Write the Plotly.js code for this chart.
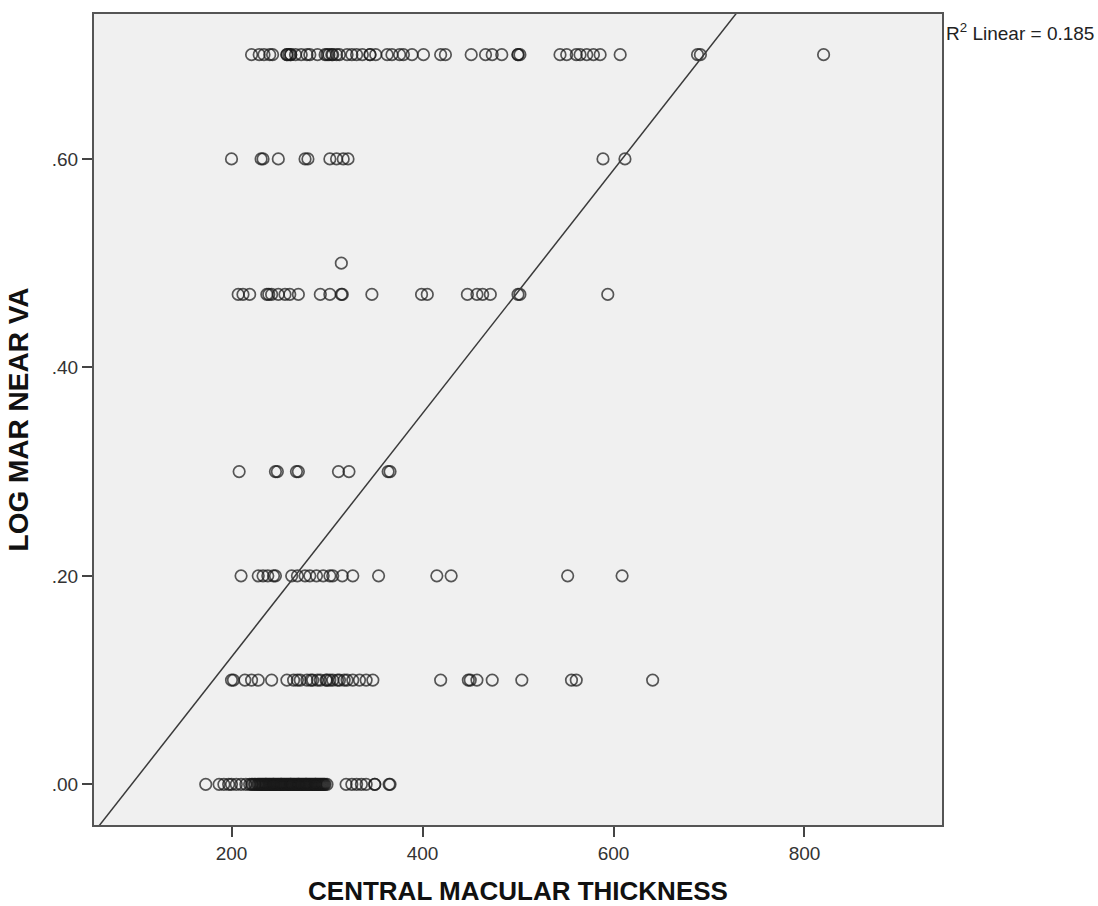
<!DOCTYPE html>
<html>
<head>
<meta charset="utf-8">
<script src="https://cdn.plot.ly/plotly-3.0.1.min.js"></script>
<style>html,body{margin:0;padding:0;background:#fff;}#chart{width:1098px;height:906px;}</style>
</head>
<body>
<div id="chart"></div>
<script>
// Central macular thickness values, one array per LogMAR near VA level
const cmt_070 = [221,229,234,240,243,258,262,267,273,279,282,290,298,306,313,321,326,331,337,345,351,363,368,376,380,389,401,419,424,451,466,473,483,500,502,544,551,561,565,572,579,586,607,688,691,820,260,262,300,302,500,258,305,310,345];
const cmt_060 = [200,231,233,249,277,280,303,310,317,322,589,612];
const cmt_050 = [315];
const cmt_047 = [207,212,219,237,239,242,249,256,261,270,293,303,315,316,347,399,405,447,457,463,471,500,502,594];
const cmt_030 = [208,246,248,268,270,312,323,364,366];
const cmt_020 = [210,228,233,238,244,246,263,269,277,282,289,296,303,306,316,327,354,415,430,552,609];
const cmt_010 = [200,202,214,221,228,242,258,265,269,272,279,283,285,293,299,300,306,311,313,321,327,334,341,348,419,448,450,457,473,504,556,561,641,290,303,318];
const cmt_000 = [173,187,192,197,200,205,210,215,219,222,225,228,230,232,234,236,238,240,242,244,246,248,250,252,254,256,258,260,262,264,266,268,270,272,274,276,278,280,283,286,289,292,295,298,300,
                 221,224,227,229,231,233,235,237,239,241,243,245,247,249,251,253,255,257,259,261,263,265,267,269,271,273,275,277,279,281,282,284,285,287,288,290,291,293,294,296,297,
                 236,244,252,262,270,278,288,320,326,331,336,341,350,350,365,366];

const vaLevels = [0.70, 0.60, 0.50, 0.47, 0.30, 0.20, 0.10, 0.00];
const cmtGroups = [cmt_070, cmt_060, cmt_050, cmt_047, cmt_030, cmt_020, cmt_010, cmt_000];

// Fit line (linear), R^2 label
const fitIntercept = -0.1114;
const fitSlope = 0.001168;
const rSquared = 0.185;

const xTicks = [200, 400, 600, 800];
const yTicks = [0, 0.2, 0.4, 0.6];
const yTickText = ['.00', '.20', '.40', '.60'];
const xRange = [56, 944];
const yRange = [-0.039, 0.739];

const xs = [], ys = [];
cmtGroups.forEach((g, i) => g.forEach(v => { xs.push(v); ys.push(vaLevels[i]); }));

const FONT = 'Arial, "Liberation Sans", sans-serif';

const traces = [
  {
    type: 'scatter', mode: 'markers', x: xs, y: ys, hoverinfo: 'x+y',
    marker: { symbol: 'circle-open', size: 11.5, color: 'rgba(25,25,25,0.72)', line: { width: 1.7, color: 'rgba(25,25,25,0.72)' } },
    showlegend: false
  },
  {
    type: 'scatter', mode: 'lines',
    x: xRange, y: xRange.map(v => fitIntercept + fitSlope * v),
    line: { color: '#3a3a3a', width: 1.5 }, showlegend: false, hoverinfo: 'skip'
  }
];

const layout = {
  width: 1098, height: 906,
  margin: { l: 94, r: 156, t: 14, b: 81 },
  paper_bgcolor: '#ffffff',
  plot_bgcolor: '#f0f0f0',
  font: { family: FONT, color: '#222' },
  xaxis: {
    range: xRange, tickvals: xTicks, ticktext: xTicks.map(String),
    showgrid: false, zeroline: false,
    showline: true, mirror: true, linecolor: '#555', linewidth: 2,
    ticks: 'outside', ticklen: 10, tickwidth: 2, tickcolor: '#444',
    tickfont: { size: 19, color: '#333', family: FONT },
    title: { text: 'CENTRAL MACULAR THICKNESS', font: { size: 26, color: '#111', family: FONT, weight: 'bold' }, standoff: 19 }
  },
  yaxis: {
    range: yRange, tickvals: yTicks, ticktext: yTickText,
    showgrid: false, zeroline: false,
    showline: true, mirror: true, linecolor: '#555', linewidth: 2,
    ticks: 'outside', ticklen: 10, tickwidth: 2, tickcolor: '#444',
    tickfont: { size: 19, color: '#333', family: FONT },
    title: { text: 'LOG MAR NEAR VA', font: { size: 28, color: '#111', family: FONT, weight: 'bold' }, standoff: 15 }
  },
  annotations: [{
    xref: 'paper', yref: 'paper', x: 1.002, y: 0.978, xanchor: 'left', yanchor: 'middle',
    text: 'R<sup>2</sup> Linear = ' + rSquared.toFixed(3), showarrow: false,
    font: { size: 19, color: '#222', family: FONT }
  }]
};

Plotly.newPlot('chart', traces, layout, { displayModeBar: false, staticPlot: true });
</script>
</body>
</html>
